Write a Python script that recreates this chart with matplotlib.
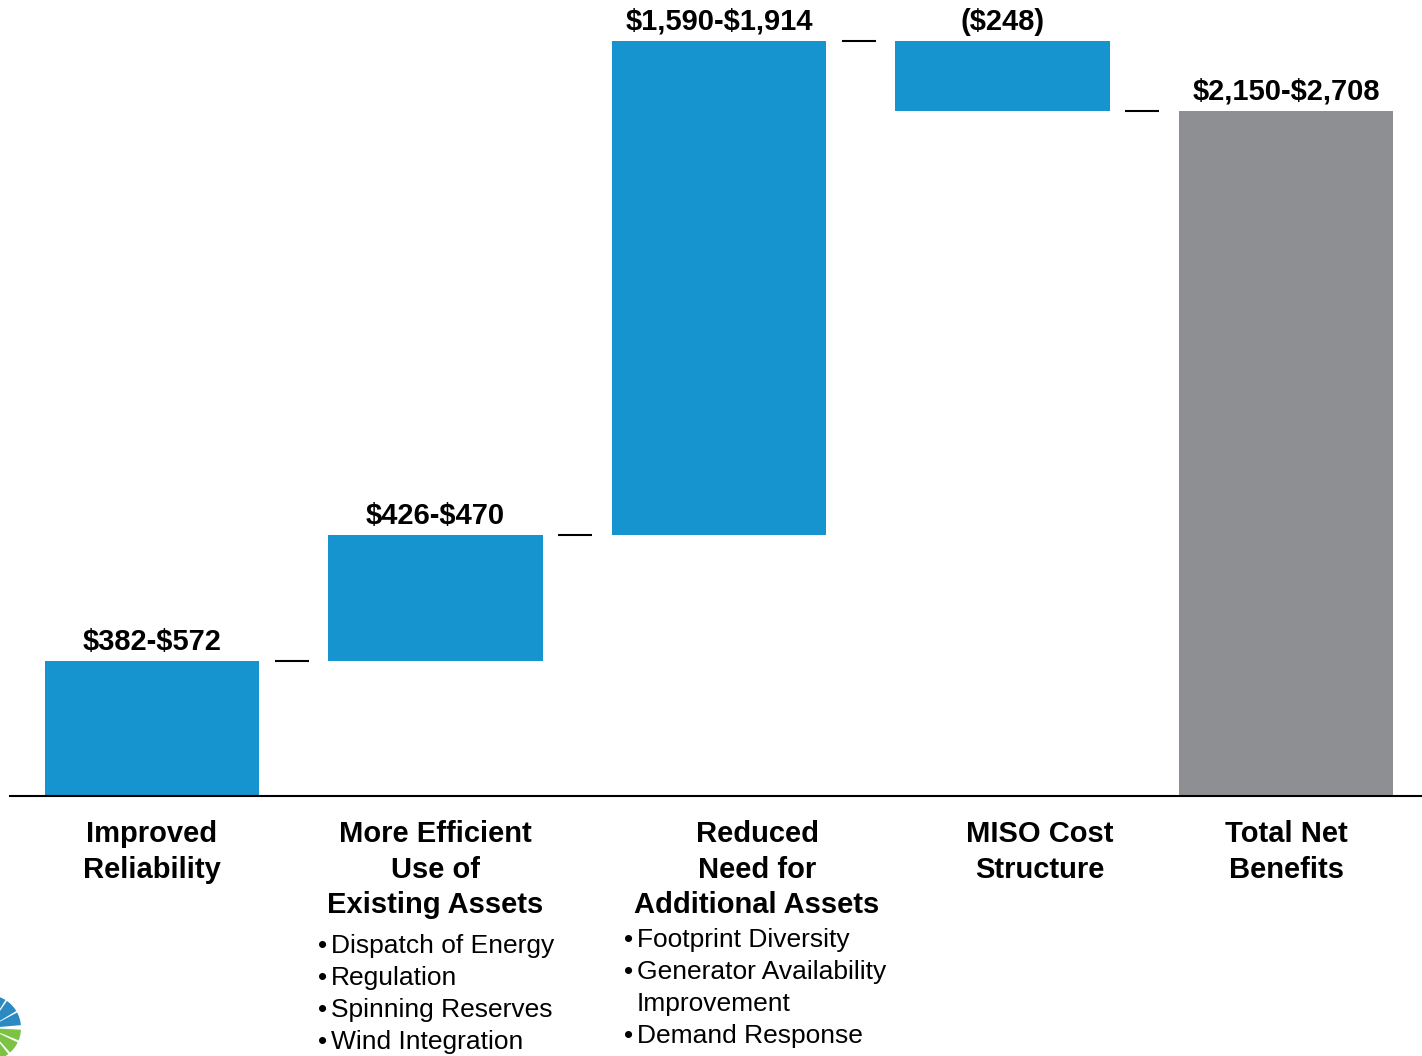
import numpy as np
import matplotlib.pyplot as plt
import matplotlib.transforms as mtransforms
from matplotlib.patches import Wedge

plt.rcParams['font.family'] = ['Liberation Sans', 'DejaVu Sans']

# benefit ranges ($M), last bar is the total
categories = ["Improved\nReliability",
              "More Efficient\nUse of\nExisting Assets",
              "Reduced\nNeed for\nAdditional Assets",
              "MISO Cost\nStructure",
              "Total Net\nBenefits"]
low = [382, 426, 1590, -248]
high = [572, 470, 1914, -248]
total_low = 2150
total_high = 2708
bullets = [[],
           ["Dispatch of Energy", "Regulation", "Spinning Reserves", "Wind Integration"],
           ["Footprint Diversity", "Generator Availability\nImprovement", "Demand Response"],
           [],
           []]

BLUE = '#1594CF'
GREY = '#8E8F93'

low = np.array(low)
high = np.array(high)
mid = (low + high) / 2
cum = np.cumsum(mid)
bottoms = np.concatenate([[0], cum[:-1]])
# negative step: bar hangs down from previous level
bar_bot = np.where(mid < 0, bottoms + mid, bottoms)
heights = np.abs(mid)
total = cum[-1]

def fmt(lo, hi):
    if lo == hi:
        return f"(\\${abs(lo):,})" if lo < 0 else f"\\${lo:,}"
    return f"\\${lo:,}-\\${hi:,}"

labels = [fmt(a, b) for a, b in zip(low, high)] + [fmt(total_low, total_high)]

W, H = 1422, 1056
fig = plt.figure(figsize=(W / 100, H / 100), dpi=100)
ax = fig.add_axes([10 / W, 260 / H, 1412 / W, 796 / H])

x = np.arange(len(categories))
bw = 0.755
ax.bar(x[:-1], heights, bottom=bar_bot, width=bw, color=BLUE)
ax.bar(x[-1], total, width=bw, color=GREY)

# connectors
for i in range(len(cum)):
    ax.hlines(cum[i], i + bw / 2 + 0.056, i + bw / 2 + 0.176, color='black', lw=1.5)

# value labels
tops = list(np.maximum(bottoms, cum)) + [total]
for i, (t, lab) in enumerate(zip(tops, labels)):
    ax.annotate(lab, (i, t), xytext=(0, 19), textcoords='offset pixels',
                ha='center', va='center', fontsize=21, fontweight='bold')

ax.set_xlim(-0.5009, 4.4797)
ax.set_ylim(0, 2822)
for s in ['top', 'right', 'left']:
    ax.spines[s].set_visible(False)
ax.spines['bottom'].set_linewidth(1.5)
ax.set_xticks([])
ax.set_yticks([])

# category labels and bullets below the axis
trans = mtransforms.blended_transform_factory(ax.transData, fig.transFigure)
px = 1 / 283.5
label_dx = [0, 0, 38 * px, 37 * px, 0]
bullet_x = [0, 318, 624, 0, 0]
bullet_y0 = [0, 946, 940, 0, 0]
for i, cat in enumerate(categories):
    for j, line in enumerate(cat.split("\n")):
        yp = 834 + j * 35.5
        ax.text(i + label_dx[i], 1 - yp / H, line, transform=trans,
                ha='center', va='center', fontsize=21, fontweight='bold')
    row = 0
    for b in bullets[i]:
        for k, line in enumerate(b.split("\n")):
            yp = bullet_y0[i] + row * 32
            xb = (bullet_x[i] - 152) / 283.5 - 0.0009
            if k == 0:
                ax.text(xb, 1 - yp / H, "\u2022", transform=trans,
                        ha='left', va='center', fontsize=19)
            ax.text(xb + 13 * px, 1 - yp / H, line, transform=trans,
                    ha='left', va='center', fontsize=19)
            row += 1

# partial logo in the bottom-left corner
lax = fig.add_axes([0, 0, 60 / W, 70 / H])
lax.set_xlim(0, 60)
lax.set_ylim(0, 70)
lax.axis('off')
c = (-12, 1056 - 1028)
for a0, a1 in [(5, 28), (31, 55), (58, 84), (87, 115)]:
    lax.add_patch(Wedge(c, 33, a0, a1, color='#2B8AC2', lw=0))
for a0, a1 in [(-22, -3), (-48, -26), (-85, -52)]:
    lax.add_patch(Wedge(c, 33, a0, a1, color='#7CC243', lw=0))

fig.savefig('out.png', dpi=100)
